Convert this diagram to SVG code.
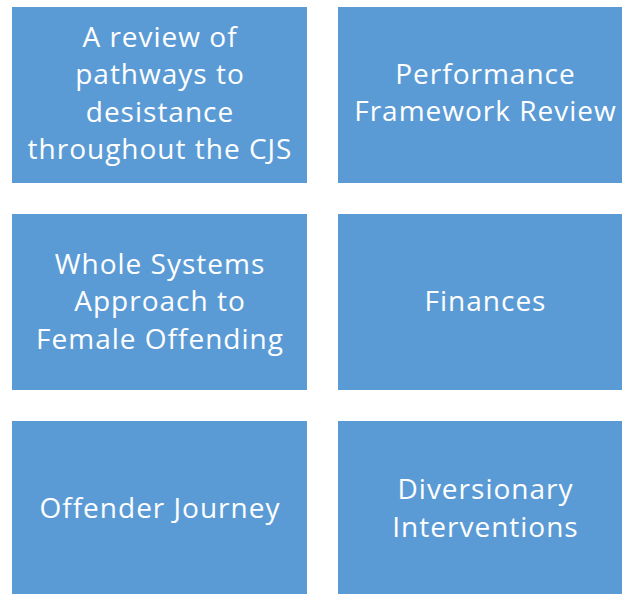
<svg xmlns="http://www.w3.org/2000/svg" width="622" height="594" viewBox="0 0 622 594">
<style>
.box{fill:#5b9bd5}
.t{fill:#ffffff;font-family:"Open Sans","Liberation Sans",sans-serif;font-size:28px;letter-spacing:1px;text-anchor:middle}
</style>
<rect width="622" height="594" fill="#ffffff"/>
<g id="n1"><rect class="box" x="12" y="7" width="295" height="176"/>
<text class="t" x="160" y="47">A review of</text>
<text class="t" x="160" y="84">pathways to</text>
<text class="t" x="160" y="122">desistance</text>
<text class="t" x="160" y="159">throughout the CJS</text></g>
<g id="n2"><rect class="box" x="338" y="7" width="295" height="176"/>
<text class="t" x="485.5" y="84">Performance</text>
<text class="t" x="485.5" y="121">Framework Review</text></g>
<g id="n3"><rect class="box" x="12" y="214" width="295" height="176"/>
<text class="t" x="160" y="274">Whole Systems</text>
<text class="t" x="160" y="311">Approach to</text>
<text class="t" x="160" y="349">Female Offending</text></g>
<g id="n4"><rect class="box" x="338" y="214" width="295" height="176"/>
<text class="t" x="485.5" y="311">Finances</text></g>
<g id="n5"><rect class="box" x="12" y="421" width="295" height="176"/>
<text class="t" x="160" y="518">Offender Journey</text></g>
<g id="n6"><rect class="box" x="338" y="421" width="295" height="176"/>
<text class="t" x="485.5" y="499">Diversionary</text>
<text class="t" x="485.5" y="537">Interventions</text></g>
<g id="connectors"></g>
</svg>
